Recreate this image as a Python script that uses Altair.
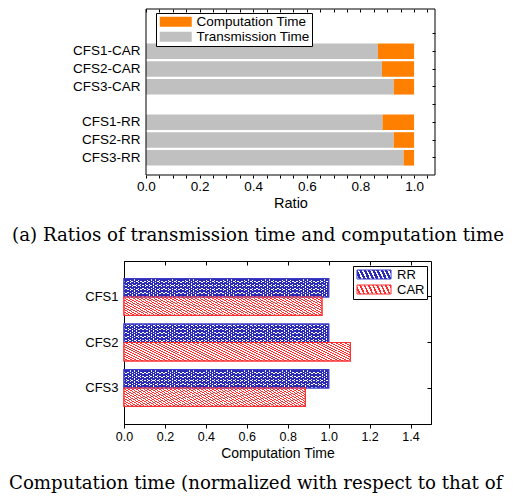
import altair as alt
import pandas as pd

# ---------------- data ----------------
top_rows = ["CFS1-CAR", "CFS2-CAR", "CFS3-CAR", "CFS1-RR", "CFS2-RR", "CFS3-RR"]
top_slots = ["gap-a", "CFS1-CAR", "CFS2-CAR", "CFS3-CAR", "gap-b", "CFS1-RR", "CFS2-RR", "CFS3-RR"]
transmission = [0.865, 0.880, 0.924, 0.882, 0.924, 0.961]
computation = [0.135, 0.120, 0.076, 0.118, 0.076, 0.039]
kinds = ["Computation Time", "Transmission Time"]
ratio_domain = [0.0, 1.078]
ratio_minor = [0.0, 0.05, 0.1, 0.15, 0.2, 0.25, 0.3, 0.35, 0.4, 0.45, 0.5, 0.55,
               0.6, 0.65, 0.7, 0.75, 0.8, 0.85, 0.9, 0.95, 1.0, 1.05]

groups = ["CFS1", "CFS2", "CFS3"]
series = ["RR", "CAR"]
rr_values = [1.0, 1.0, 1.0]
car_values = [0.967, 1.106, 0.886]
comp_ticks = [0.0, 0.2, 0.4, 0.6, 0.8, 1.0, 1.2, 1.4]

caption_a = ["(a) Ratios of transmission time and computation time"]
caption_b = ["Computation time (normalized with respect to that of"]

# ---------------- tables ----------------
top_records = []
for n, t, c in zip(top_rows, transmission, computation):
    top_records.append({"name": n, "kind": kinds[1], "value": t, "ord": 0})
    top_records.append({"name": n, "kind": kinds[0], "value": c, "ord": 1})
top_df = pd.DataFrame(top_records)

bot_records = []
for g, r, c in zip(groups, rr_values, car_values):
    bot_records.append({"group": g, "series": "RR", "value": r})
    bot_records.append({"group": g, "series": "CAR", "value": c})
bot_df = pd.DataFrame(bot_records)

# ---------------- hatch gradients (45 degree stripes) ----------------
def hatch_parts(color, bg, n, frac, direction):
    coords = (0, 0, 1, 1) if direction == "/" else (0, 1, 1, 0)
    stops = []
    for i in range(n):
        s0 = round(i / n, 5)
        s1 = round((i + frac) / n, 5)
        s2 = round((i + 1) / n, 5)
        stops += [(s0, color), (s1, color), (s1, bg), (s2, bg)]
    return coords, stops


def hatch(color, bg, n, frac, direction):
    (x1, y1, x2, y2), stops = hatch_parts(color, bg, n, frac, direction)
    return alt.LinearGradient(
        gradient="linear",
        stops=[alt.GradientStop(offset=o, color=c) for o, c in stops],
        x1=x1, y1=y1, x2=x2, y2=y2)


def hatch_expr(color, bg, n, frac, direction):
    (x1, y1, x2, y2), stops = hatch_parts(color, bg, n, frac, direction)
    st = ",".join("{offset:%s,color:'%s'}" % (o, c) for o, c in stops)
    return "{gradient:'linear',x1:%s,y1:%s,x2:%s,y2:%s,stops:[%s]}" % (x1, y1, x2, y2, st)


BLUE = "#2A2AB4"
BLUE_EDGE = "#3C3CC8"
RED = "#FF2A2A"
RED_EDGE = "#FF3030"
CLEAR = "rgba(255,255,255,0)"

rr_a = hatch(BLUE, "#FFFFFF", 97, 0.5, "/")
rr_b = hatch(BLUE, CLEAR, 97, 0.5, "\\")
car_h = hatch(RED, "#FFFFFF", 95, 0.42, "/")
leg_rr = hatch_expr(BLUE, "#FFFFFF", 16, 0.6, "/")
leg_car = hatch_expr(RED, "#FFFFFF", 16, 0.42, "/")

# every row of the stack shares one origin (left edge of the bottom plot)
SHIFT = 22  # the top plot frame starts this far right of that origin

# ---------------- top chart ----------------
top_base = alt.Chart(top_df)
x_top_scale = alt.Scale(domain=ratio_domain, nice=False, zero=True, range=[SHIFT, SHIFT + 289])
y_top_scale = alt.Scale(domain=top_slots, paddingInner=0.12, paddingOuter=0.736, align=0.639)

top_bars = top_base.mark_bar().encode(
    x=alt.X("value:Q", stack="zero", scale=x_top_scale,
            axis=alt.Axis(values=ratio_minor, title="Ratio", tickSize=3, domain=False,
                          labelFlush=False,
                          labelExpr="round(datum.value * 100) % 20 == 0 ? format(datum.value, '.1f') : ''",
                          labelPadding=1, labelFontSize=13.5, titleFontSize=14.5,
                          titlePadding=4)),
    y=alt.Y("name:N", scale=y_top_scale,
            axis=alt.Axis(title=None, ticks=False, tickSize=0, labelFontSize=13.5, labelPadding=6,
                          offset=-SHIFT, domain=False,
                          labelExpr="indexof(datum.label, 'gap') == 0 ? '' : datum.label")),
    color=alt.Color("kind:N", scale=alt.Scale(domain=kinds, range=["#FF8000", "#C0C0C0"]),
                    legend=alt.Legend(orient="none", legendX=SHIFT + 10, legendY=4, title=None,
                                      symbolType="M-1,-1H5.4V1H-1Z", symbolSize=100,
                                      symbolStrokeWidth=0, labelOffset=25, labelFontSize=13.5,
                                      rowPadding=0, padding=2, strokeColor="black",
                                      fillColor="white", labelColor="black")),
    order=alt.Order("ord:Q"),
)

# frame of the top plot, spanning the ratio domain
top_frame = alt.Chart(pd.DataFrame({"lo": [ratio_domain[0]], "hi": [ratio_domain[1]]})).mark_rect(
    fillOpacity=0, stroke="black", strokeWidth=1
).encode(x=alt.X("lo:Q", scale=x_top_scale, axis=None), x2="hi:Q",
         y=alt.value(0), y2=alt.value("height"))

top_ticks = top_base.mark_bar(opacity=0).encode(
    x=alt.X("value:Q", stack=None, scale=x_top_scale,
            axis=alt.Axis(orient="top", values=ratio_minor, labels=False, domain=False,
                          tickSize=3, offset=-3, title=None)),
    y=alt.Y("name:N", scale=y_top_scale,
            axis=alt.Axis(orient="right", labels=False, domain=False, tickSize=3, offset=-3,
                          title=None)),
)

top_chart = alt.layer(top_bars, top_frame, top_ticks).resolve_axis(
    x="independent", y="independent").properties(
    width=SHIFT + 289, height=166, view=alt.ViewBackground(stroke="transparent"))

# ---------------- caption a ----------------
cap_a = alt.Chart(pd.DataFrame({"t": caption_a})).mark_text(
    font="DejaVu Serif", fontSize=18.2, align="center", baseline="middle", color="black"
).encode(text="t:N", x=alt.value(134), y=alt.value(23.5)).properties(
    width=300, height=47, view=alt.ViewBackground(stroke="transparent"))

# ---------------- bottom chart ----------------
bot_base = alt.Chart(bot_df)
x_bot_scale = alt.Scale(domain=[0, 1.5], nice=False, zero=True)
y_bot_scale = alt.Scale(domain=groups, paddingInner=0.19, paddingOuter=0.386)
yoff = alt.YOffset("series:N", scale=alt.Scale(domain=series, paddingInner=0, paddingOuter=0))

x_bot = alt.X("value:Q", scale=x_bot_scale,
              axis=alt.Axis(values=comp_ticks, format=".1f", title="Computation Time",
                            tickSize=4, labelPadding=2, labelFontSize=12.5, titleFontSize=14,
                            titlePadding=4, labelFlush=False))
y_bot = alt.Y("group:N", scale=y_bot_scale,
              axis=alt.Axis(title=None, ticks=False, tickSize=0, labelPadding=6, labelFontSize=13,
                            minExtent=115, maxExtent=115))
x_plain = alt.X("value:Q", scale=x_bot_scale, axis=None)
y_plain = alt.Y("group:N", scale=y_bot_scale, axis=None)

# legends of the stacked chart are placed from the shared origin (top plot top)
bot_legend = alt.Legend(orient="none", legendX=229, legendY=257, title=None,
                        symbolType="M-1,-1H6.56V1H-1Z", symbolSize=81, symbolStrokeWidth=1,
                        labelOffset=29, labelFontSize=13, rowPadding=1, padding=2,
                        strokeColor="black", fillColor="white", labelColor="black")
fill_scale = alt.Scale(domain=series, range=[{"expr": leg_rr}, {"expr": leg_car}])
stroke_scale = alt.Scale(domain=series, range=[BLUE_EDGE, RED_EDGE])

legend_layer = bot_base.mark_bar(strokeWidth=1.2).encode(
    x=x_bot, y=y_bot, yOffset=yoff,
    fill=alt.Fill("series:N", scale=fill_scale, legend=bot_legend),
    stroke=alt.Stroke("series:N", scale=stroke_scale, legend=bot_legend),
)
rr_l1 = bot_base.transform_filter("datum.series == 'RR'").mark_bar(
    fill=rr_a, strokeWidth=0).encode(x=x_plain, y=y_plain, yOffset=yoff)
rr_l2 = bot_base.transform_filter("datum.series == 'RR'").mark_bar(
    fill=rr_b, strokeWidth=0).encode(x=x_plain, y=y_plain, yOffset=yoff)
car_l = bot_base.transform_filter("datum.series == 'CAR'").mark_bar(
    fill=car_h, strokeWidth=0).encode(x=x_plain, y=y_plain, yOffset=yoff)

edges = bot_base.mark_bar(fillOpacity=0, strokeWidth=1.2).encode(
    x=x_plain, y=y_plain, yOffset=yoff,
    stroke=alt.Stroke("series:N", scale=stroke_scale, legend=bot_legend),
)

bot_ticks = bot_base.mark_bar(opacity=0).encode(
    x=alt.X("value:Q", scale=x_bot_scale,
            axis=alt.Axis(orient="top", values=comp_ticks, labels=False, domain=False,
                          tickSize=4, offset=-4, title=None)),
    y=alt.Y("group:N", scale=y_bot_scale,
            axis=alt.Axis(orient="right", labels=False, domain=False, tickSize=4, offset=-4,
                          title=None)),
    yOffset=yoff,
)

bot_chart = alt.layer(legend_layer, rr_l1, rr_l2, car_l, edges, bot_ticks).resolve_axis(
    x="independent", y="independent").properties(width=307, height=163)

# ---------------- caption b ----------------
cap_b = alt.Chart(pd.DataFrame({"t": caption_b})).mark_text(
    font="DejaVu Serif", fontSize=18.2, align="left", baseline="alphabetic", color="black"
).encode(text="t:N", x=alt.value(-115), y=alt.value(27)).properties(
    width=300, height=30, view=alt.ViewBackground(stroke="transparent"))

chart = alt.concat(top_chart, cap_a, bot_chart, cap_b, columns=1, spacing=0).properties(
    padding=0
).configure(font="Liberation Sans").configure_view(
    stroke="black", strokeWidth=1
).configure_axis(
    labelColor="black", titleColor="black", domainColor="black", tickColor="black",
    titleFontWeight="normal", grid=False, labelFont="Liberation Sans", titleFont="Liberation Sans"
).configure_legend(labelFont="Liberation Sans")

chart.save("out.html", embed_options={"renderer": "svg", "actions": False})
